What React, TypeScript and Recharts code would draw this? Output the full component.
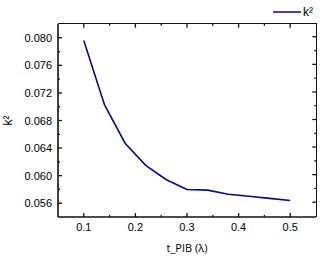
import React from 'react';
import { LineChart, Line, XAxis, YAxis } from 'recharts';

const tValues = [0.1, 0.14, 0.18, 0.22, 0.26, 0.3, 0.34, 0.38, 0.42, 0.46, 0.5];
const k2Values = [0.0796, 0.0703, 0.0647, 0.0615, 0.0594, 0.058, 0.0579, 0.0573, 0.057, 0.0567, 0.0564];
const xTicks = [0.1, 0.15, 0.2, 0.25, 0.3, 0.35, 0.4, 0.45, 0.5];
const yTicks = [0.056, 0.058, 0.06, 0.062, 0.064, 0.066, 0.068, 0.07, 0.072, 0.074, 0.076, 0.078, 0.08];
const xDomain = [0.05, 0.55];
const yDomain = [0.054, 0.082];

const data = tValues.map((t, i) => ({ t, k2: k2Values[i] }));

const AXIS = '#111';
const LINE = '#0a0a80';
const FONT = 'Liberation Sans, Arial, sans-serif';
const MAJ = 4;
const MIN = 2;
const FRAME_W = 1.6;

const W = 321;
const H = 256;
const M = { top: 24, right: 5, bottom: 0, left: 0 };
const YW = 58;
const XH = 39;
const plotLeft = M.left + YW;
const plotRight = W - M.right;
const plotTop = M.top;
const plotBottom = H - M.bottom - XH;

const isMajorX = (v: number) => Math.round(v * 100) % 10 === 0;
const isMajorY = (v: number) => Math.round(v * 1000) % 4 === 0;
const fracX = (v: number) => (v - xDomain[0]) / (xDomain[1] - xDomain[0]);
const fracY = (v: number) => (v - yDomain[0]) / (yDomain[1] - yDomain[0]);

const BottomTick = (props: any) => {
  const { x, y, payload } = props;
  const v = payload.value;
  const len = isMajorX(v) ? MAJ : MIN;
  const ay = y - 8;
  return (
    <g>
      <line x1={x} x2={x} y1={ay} y2={ay - len} stroke={AXIS} strokeWidth={1.3} />
      {isMajorX(v) && (
        <text x={x} y={ay + 14} textAnchor="middle" fontSize={11} fontFamily={FONT} fill="#000">
          {v.toFixed(1)}
        </text>
      )}
    </g>
  );
};

const LeftTick = (props: any) => {
  const { x, y, payload } = props;
  const v = payload.value;
  const len = isMajorY(v) ? MAJ : MIN;
  const ax = x + 6;
  return (
    <g>
      <line x1={ax} x2={ax + len} y1={y} y2={y} stroke={AXIS} strokeWidth={1.3} />
      {isMajorY(v) && (
        <text x={ax - 6} y={y + 4} textAnchor="end" fontSize={11} fontFamily={FONT} fill="#000">
          {v.toFixed(3)}
        </text>
      )}
    </g>
  );
};

const YLabel = (props: any) => {
  const vb = props.viewBox || {};
  const cx = 8;
  const cy = (vb.y || 0) + (vb.height || 0) / 2;
  return (
    <text x={cx} y={cy} transform={`rotate(-90 ${cx} ${cy})`} textAnchor="middle" dominantBaseline="central" fontSize={12} fontFamily={FONT} fill="#000">
      k²
    </text>
  );
};

const FrameOverlay = () => (
  <div
    style={{
      position: 'absolute',
      left: plotLeft,
      top: plotTop - FRAME_W / 2,
      width: plotRight - plotLeft + FRAME_W / 2,
      height: plotBottom - plotTop + FRAME_W / 2,
      borderTop: `${FRAME_W}px solid ${AXIS}`,
      borderRight: `${FRAME_W}px solid ${AXIS}`,
      boxSizing: 'border-box',
      pointerEvents: 'none',
      zIndex: 5,
    }}
  >
    <svg
      style={{ position: 'absolute', left: 0, top: 0, overflow: 'visible' }}
      width={plotRight - plotLeft}
      height={MAJ}
    >
      {xTicks.map((v) => (
        <line
          key={v}
          x1={`${fracX(v) * 100}%`}
          x2={`${fracX(v) * 100}%`}
          y1={0}
          y2={(isMajorX(v) ? MAJ : MIN) - FRAME_W / 2 + 0.5}
          stroke={AXIS}
          strokeWidth={1.3}
        />
      ))}
    </svg>
    <svg
      style={{ position: 'absolute', right: 0, top: -FRAME_W / 2, overflow: 'visible' }}
      width={MAJ}
      height={plotBottom - plotTop}
    >
      {yTicks.map((v) => (
        <line
          key={v}
          x1={MAJ}
          x2={MAJ - ((isMajorY(v) ? MAJ : MIN) - FRAME_W / 2 + 0.5)}
          y1={`${(1 - fracY(v)) * 100}%`}
          y2={`${(1 - fracY(v)) * 100}%`}
          stroke={AXIS}
          strokeWidth={1.3}
        />
      ))}
    </svg>
  </div>
);

export default function App() {
  return (
    <div style={{ position: 'absolute', left: 0, top: 0, width: W, height: H }}>
      <LineChart width={W} height={H} data={data} margin={M}>
        <XAxis
          dataKey="t"
          type="number"
          domain={xDomain}
          ticks={xTicks}
          interval={0}
          height={XH}
          tickSize={0}
          tickMargin={8}
          tick={<BottomTick />}
          axisLine={{ stroke: AXIS, strokeWidth: FRAME_W }}
          tickLine={false}
          label={{ value: 't_PIB (λ)', position: 'insideBottom', offset: 4, fontSize: 11, fontFamily: 'Open Sans, sans-serif', fill: '#000' }}
        />
        <YAxis
          type="number"
          domain={yDomain}
          ticks={yTicks}
          interval={0}
          width={YW}
          tickSize={0}
          tickMargin={6}
          tick={<LeftTick />}
          axisLine={{ stroke: AXIS, strokeWidth: FRAME_W }}
          tickLine={false}
          label={<YLabel />}
        />
        <Line
          dataKey="k2"
          name="k²"
          type="linear"
          stroke={LINE}
          strokeWidth={1.6}
          dot={false}
          isAnimationActive={false}
        />
      </LineChart>
      <FrameOverlay />
      <div
        style={{
          position: 'absolute',
          top: 5,
          right: 8,
          display: 'flex',
          alignItems: 'center',
          fontFamily: FONT,
          fontSize: 12,
          color: '#000',
          lineHeight: '14px',
        }}
      >
        <svg width={28} height={4}>
          <line x1={0} x2={28} y1={2} y2={2} stroke={LINE} strokeWidth={1.5} />
        </svg>
        <span style={{ marginLeft: 2 }}>k²</span>
      </div>
    </div>
  );
}
